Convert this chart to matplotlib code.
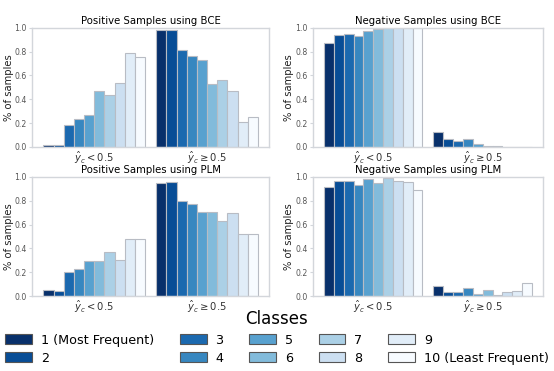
import matplotlib.pyplot as plt
import numpy as np

groups = [r'$\hat{y}_c < 0.5$', r'$\hat{y}_c \geq 0.5$']
class_labels = ['1 (Most Frequent)', '2', '3', '4', '5', '6', '7', '8', '9', '10 (Least Frequent)']

pos_bce_low = [0.017, 0.02, 0.183, 0.235, 0.268, 0.472, 0.44, 0.533, 0.79, 0.752]
pos_bce_high = [0.983, 0.98, 0.817, 0.765, 0.732, 0.528, 0.56, 0.467, 0.21, 0.248]
neg_bce_low = [0.872, 0.937, 0.95, 0.935, 0.975, 0.99, 0.997, 0.998, 0.999, 1.0]
neg_bce_high = [0.128, 0.063, 0.05, 0.065, 0.025, 0.01, 0.004, 0.002, 0.001, 0.0]
pos_plm_low = [0.052, 0.04, 0.205, 0.228, 0.298, 0.293, 0.368, 0.303, 0.48, 0.475]
pos_plm_high = [0.948, 0.96, 0.795, 0.772, 0.702, 0.707, 0.632, 0.697, 0.52, 0.525]
neg_plm_low = [0.916, 0.963, 0.966, 0.93, 0.983, 0.953, 0.995, 0.969, 0.958, 0.893]
neg_plm_high = [0.084, 0.037, 0.034, 0.07, 0.017, 0.047, 0.005, 0.031, 0.042, 0.107]

panels = [
    ('Positive Samples using BCE', pos_bce_low, pos_bce_high),
    ('Negative Samples using BCE', neg_bce_low, neg_bce_high),
    ('Positive Samples using PLM', pos_plm_low, pos_plm_high),
    ('Negative Samples using PLM', neg_plm_low, neg_plm_high),
]

colors = plt.cm.Blues(np.linspace(1.0, 0.0, 10))
width = 0.09
spine_col = '#d3d6db'

fig = plt.figure(figsize=(5.54, 3.71), dpi=100)
boxes = [
    [0.058, 0.604, 0.428, 0.321],
    [0.565, 0.604, 0.415, 0.321],
    [0.058, 0.202, 0.428, 0.321],
    [0.565, 0.202, 0.415, 0.321],
]

handles = []
for box, (title, low, high) in zip(boxes, panels):
    ax = fig.add_axes(box)
    handles = []
    for i in range(10):
        off = (i - 4.5) * width
        b = ax.bar([0 + off, 1 + off], [low[i], high[i]], width=width,
                   color=colors[i], edgecolor='#b8bcc4', linewidth=0.8)
        handles.append(b)
    ax.set_xlim(-0.55, 1.55)
    ax.set_ylim(0, 1.0)
    ax.set_xticks([0, 1])
    ax.set_xticklabels(groups, fontsize=7.2, color='#333333')
    ax.set_yticks(np.arange(0, 1.01, 0.2))
    ax.set_yticklabels(['%.1f' % v for v in np.arange(0, 1.01, 0.2)], fontsize=5.6, color='#555555')
    ax.tick_params(axis='x', length=0, pad=2)
    ax.tick_params(axis='y', length=2.5, width=0.8, color=spine_col, pad=1.5)
    ax.set_ylabel('% of samples', fontsize=7.2, color='#222222', labelpad=0.5)
    ax.set_title(title, fontsize=7.3, pad=3)
    for s in ax.spines.values():
        s.set_color(spine_col)
        s.set_linewidth(1.0)

leg = fig.legend(handles, class_labels, loc='upper center', bbox_to_anchor=(0.5, 0.185),
                 ncol=5, frameon=False, fontsize=9.2, title='Classes', title_fontsize=12,
                 handlelength=2.1, handleheight=0.8, columnspacing=2.0, labelspacing=0.4,
                 handletextpad=0.7, borderpad=0.1)
leg._legend_box.sep = 4
for h in leg.legend_handles:
    h.set_edgecolor('#555555')

fig.savefig('out.png', dpi=100)
